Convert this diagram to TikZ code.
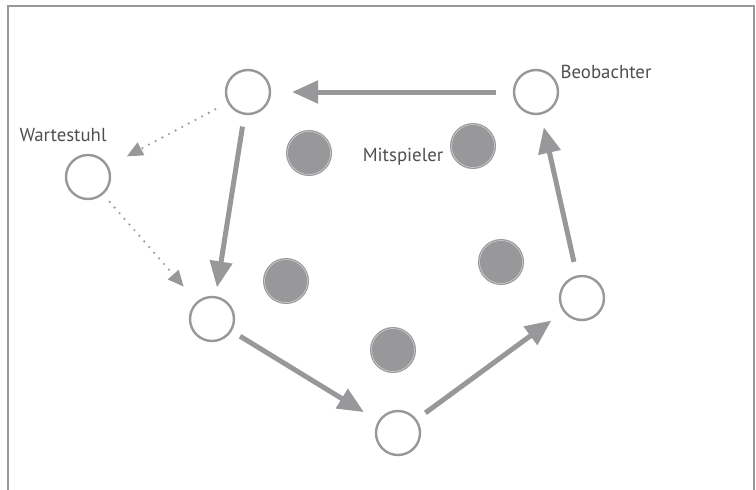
\documentclass[tikz,border=0pt]{standalone}
\usepackage{fontspec}
\setmainfont{PT Sans}
\usetikzlibrary{arrows.meta}
\definecolor{lgray}{HTML}{98989B}
\definecolor{tgray}{HTML}{4F4F52}
\tikzset{
  opencirc/.style={circle, draw=lgray, line width=2.4pt, minimum size=44pt, inner sep=0pt, outer sep=0pt, fill=white},
  fullcirc/.style={circle, fill=lgray, minimum size=46pt, inner sep=0pt, outer sep=0pt,
    path picture={\draw[white!55!lgray, line width=0.6pt] (path picture bounding box.center) circle (21.5pt);}},
  bigarrow/.style={draw=lgray, line width=5pt, -{Triangle[length=26pt,width=22pt]}},
  dotarrow/.style={draw=lgray, line width=2.4pt, line cap=round, dash pattern=on 0pt off 7.5pt, -{Triangle[length=16pt,width=14pt]}},
  lbl/.style={text=tgray, font=\fontsize{18.8}{22}\selectfont, inner sep=0pt}
}
\begin{document}
\begin{tikzpicture}[x=1pt,y=-1pt]
\useasboundingbox (0,0) rectangle (756,490);
\draw[lgray, line width=1.8pt] (8,490) -- (8,6) -- (754,6) -- (754,490);
% open circles
\node[opencirc] (A) at (248,92) {};
\node[opencirc] (B) at (536,92) {};
\node[opencirc] (W) at (88,177) {};
\node[opencirc] (C) at (212,319) {};
\node[opencirc] (D) at (398,433) {};
\node[opencirc] (E) at (582,298) {};
% players
\node[fullcirc] (P1) at (309,153) {};
\node[fullcirc] (P2) at (473,146) {};
\node[fullcirc] (P3) at (501,262) {};
\node[fullcirc] (P4) at (286,281) {};
\node[fullcirc] (P5) at (393,350) {};
% labels
\node[lbl] (tw) at (63,135) {Wartestuhl};
\node[lbl] (tb) at (606,72) {Beobachter};
\node[lbl] (tm) at (403,157) {Mitspieler};
% arrows
\draw[bigarrow, shorten <=18pt, shorten >=22pt] (B) -- (A);
\draw[bigarrow, shorten <=13pt, shorten >=10pt] (A) -- (C);
\draw[bigarrow, shorten <=11pt, shorten >=18pt] (C) -- (D);
\draw[bigarrow, shorten <=12pt, shorten >=16pt] (D) -- (E);
\draw[bigarrow, shorten <=15pt, shorten >=14pt] (E) -- (B);
\draw[dotarrow, shorten <=15pt, shorten >=22pt] (A) -- (W);
\draw[dotarrow, shorten <=11pt, shorten >=21pt] (W) -- (C);
\end{tikzpicture}
\end{document}
